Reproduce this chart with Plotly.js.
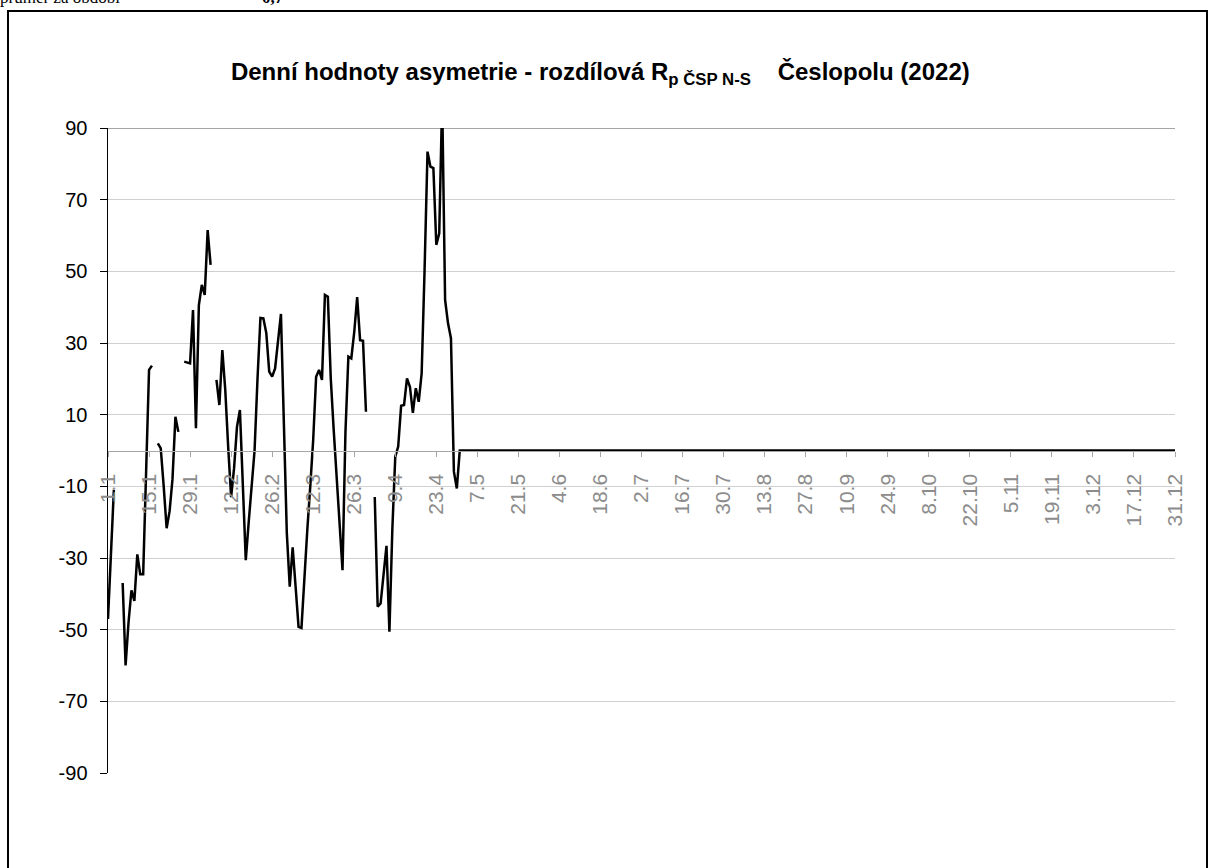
<!DOCTYPE html>
<html>
<head>
<meta charset="utf-8">
<script src="https://cdn.plot.ly/plotly-3.0.1.min.js"></script>
<style>
  body { margin: 0; background: #fff; overflow: hidden; }
  #topline { position: absolute; left: 0; top: -12px; font-family: 'Liberation Serif', 'Times New Roman', serif; font-size: 17px; color: #000; white-space: nowrap; }
  #topval { position: absolute; left: 262px; top: -12px; font-family: 'Liberation Serif', 'Times New Roman', serif; font-size: 17px; font-weight: bold; }
  #box { position: absolute; left: 7px; top: 10px; width: 1197px; height: 870px; border: 2px solid #000; }
  #chart { width: 1197px; height: 870px; }
</style>
</head>
<body>
<div id="topline">průměr za období</div>
<div id="topval">0,7</div>
<div id="box"><div id="chart"></div></div>
<script>
// Daily values of the difference asymmetry R_p (ČSP N-S), 2022, per month
const jan = [-47, -28, -11, null, null, -37, -60, -48, -39, -42, -29, -34.5, -34.5, -6, 22.5, 23.7, null, 2, 0.6, -10, -21.7, -17, -8, 9.4, 5.2, null, 24.8, 24.6, 24.3, 39.2, 6.2];
const feb = [40.6, 46.2, 43.4, 61.5, 51.8, null, 19.7, 12.7, 28, 17, 1, -13, -5, 6.6, 11.3, -10, -30.6, -20, -9, 0, 20, 37, 36.9, 32.8, 22, 20.6, 22.9, 31.3];
const mar = [38.1, 7.5, -23, -38, -27, -38, -49.2, -49.5, -35, -22, -10, 3, 20.6, 22.5, 19.7, 43.4, 42.9, 20, 5.7, -8, -21, -33.4, 5, 26.2, 25.7, 33, 42.8, 30.8, 30.6, 10.8, null];
const apr = [null, -13, -43.6, -42.7, -35, -26.6, -50.6, -22, -1.7, 1.1, 12.5, 12.7, 20.1, 17.8, 10.5, 17.4, 13.6, 21.5, 50.4, 83.4, 79.2, 78.8, 57.4, 60.6, 98, 42, 35.5, 31.3, -5.9, -10.6];
const may = [0,0,0,0,0,0,0,0,0,0,0,0,0,0,0,0,0,0,0,0,0,0,0,0,0,0,0,0,0,0,0];
const jun = [0,0,0,0,0,0,0,0,0,0,0,0,0,0,0,0,0,0,0,0,0,0,0,0,0,0,0,0,0,0];
const jul = [0,0,0,0,0,0,0,0,0,0,0,0,0,0,0,0,0,0,0,0,0,0,0,0,0,0,0,0,0,0,0];
const aug = [0,0,0,0,0,0,0,0,0,0,0,0,0,0,0,0,0,0,0,0,0,0,0,0,0,0,0,0,0,0,0];
const sep = [0,0,0,0,0,0,0,0,0,0,0,0,0,0,0,0,0,0,0,0,0,0,0,0,0,0,0,0,0,0];
const oct = [0,0,0,0,0,0,0,0,0,0,0,0,0,0,0,0,0,0,0,0,0,0,0,0,0,0,0,0,0,0,0];
const nov = [0,0,0,0,0,0,0,0,0,0,0,0,0,0,0,0,0,0,0,0,0,0,0,0,0,0,0,0,0,0];
const dec = [0,0,0,0,0,0,0,0,0,0,0,0,0,0,0,0,0,0,0,0,0,0,0,0,0,0,0,0,0,0,0];

const months = [jan, feb, mar, apr, may, jun, jul, aug, sep, oct, nov, dec];

// Tick labels shown on the x axis (every 14 days)
const tickLabels = ["1.1","15.1","29.1","12.2","26.2","12.3","26.3","9.4","23.4","7.5","21.5","4.6","18.6","2.7","16.7","30.7","13.8","27.8","10.9","24.9","8.10","22.10","5.11","19.11","3.12","17.12","31.12"];

// y axis ticks
const yTicks = [-90, -70, -50, -30, -10, 10, 30, 50, 70, 90];

// Build day categories (d.m) and the value list
const days = [];
const values = [];
months.forEach((arr, mi) => {
  arr.forEach((v, di) => {
    days.push((di + 1) + "." + (mi + 1));
    values.push(v);
  });
});

const trace = {
  x: days,
  y: values,
  type: 'scatter',
  mode: 'lines',
  line: { color: '#000000', width: 2.5 },
  connectgaps: false,
  hoverinfo: 'x+y'
};

const layout = {
  width: 1197,
  height: 870,
  margin: { l: 99, r: 31, t: 116, b: 109, pad: 0 },
  paper_bgcolor: '#ffffff',
  plot_bgcolor: '#ffffff',
  showlegend: false,
  font: { family: 'Liberation Sans, Arial, sans-serif', color: '#000' },
  title: {
    text: '<b>Denní hodnoty asymetrie - rozdílová R<sub>p ČSP N-S</sub>\u00A0\u00A0\u00A0\u00A0Česlopolu (2022)</b>',
    font: { family: 'Liberation Sans, Arial, sans-serif', size: 24, color: '#000' },
    x: 0.494, xref: 'container', xanchor: 'center',
    y: 0.932, yref: 'container', yanchor: 'middle'
  },
  xaxis: {
    type: 'category',
    range: [0, 364],
    anchor: 'free',
    position: 0.5,
    showline: true,
    linecolor: '#a6a6a6',
    linewidth: 1,
    showgrid: false,
    zeroline: false,
    ticks: 'outside',
    ticklen: 5,
    tickcolor: '#a6a6a6',
    tickmode: 'array',
    tickvals: tickLabels,
    ticktext: tickLabels,
    tickangle: -90,
    ticklabelstandoff: 9,
    tickfont: { family: 'Liberation Sans, Arial, sans-serif', size: 21, color: '#8c8c8c' },
    fixedrange: true
  },
  yaxis: {
    range: [-90, 90],
    tickmode: 'array',
    tickvals: yTicks,
    ticktext: yTicks.map(String),
    showline: true,
    linecolor: '#000000',
    linewidth: 1.5,
    ticks: 'outside',
    ticklen: 7,
    tickcolor: '#000000',
    showgrid: true,
    gridcolor: '#d0d0d0',
    gridwidth: 1,
    zeroline: false,
    ticklabelstandoff: 8,
    tickfont: { family: 'Liberation Sans, Arial, sans-serif', size: 20, color: '#000' },
    fixedrange: true
  },
  shapes: [
    { type: 'line', xref: 'paper', x0: 0, x1: 1, yref: 'y', y0: 90, y1: 90, line: { color: '#888888', width: 1.5 }, layer: 'below' }
  ]
};

Plotly.newPlot('chart', [trace], layout, { displayModeBar: false, staticPlot: true });
</script>
</body>
</html>
